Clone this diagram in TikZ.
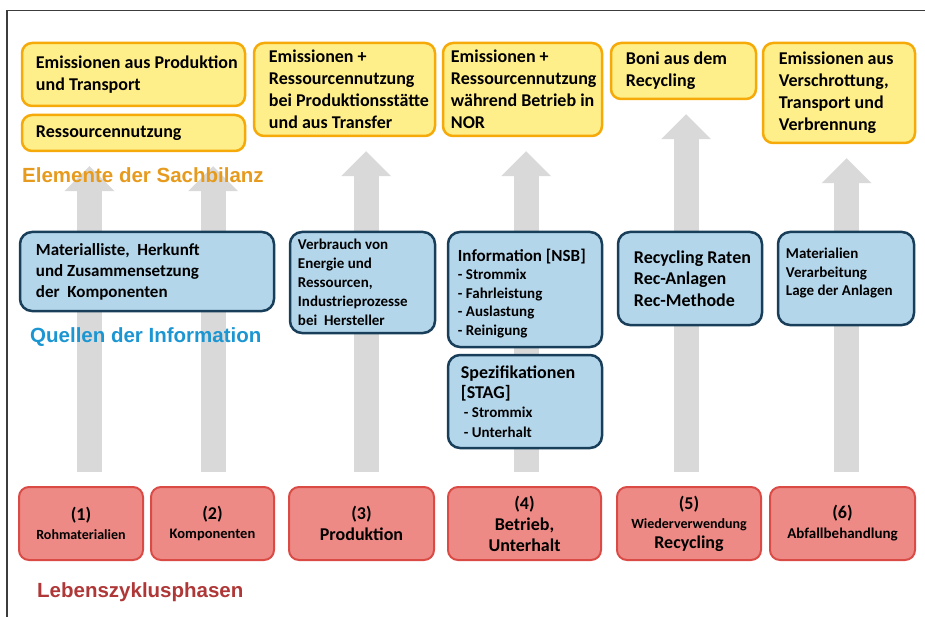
\documentclass[tikz,border=0pt]{standalone}
\usepackage{fontspec}
\setmainfont{Carlito}
\newfontfamily\captionfont{Liberation Sans}
\usetikzlibrary{arrows.meta}
\definecolor{elemfill}{RGB}{255,239,138}
\definecolor{elemdraw}{RGB}{245,170,10}
\definecolor{sourcefill}{RGB}{180,214,235}
\definecolor{sourcedraw}{RGB}{24,62,90}
\definecolor{phasefill}{RGB}{238,138,134}
\definecolor{phasedraw}{RGB}{218,75,70}
\definecolor{flowgray}{RGB}{217,217,217}
\definecolor{framegray}{RGB}{60,60,60}
\definecolor{captionorange}{RGB}{230,155,30}
\definecolor{captionblue}{RGB}{28,150,210}
\definecolor{captionred}{RGB}{175,55,55}
\pgfdeclarelayer{background}
\pgfsetlayers{background,main}

\begin{document}
\begin{tikzpicture}[x=1pt,y=-1pt]
        \tikzstyle{element node}=[draw=elemdraw,fill=elemfill,line width=2.5pt,rounded corners=10pt,inner sep=0pt]
        \tikzstyle{element text}=[anchor=west,align=left,inner sep=0pt,font=\bfseries\fontsize{18}{22}\selectfont]
        \tikzstyle{source node}=[draw=sourcedraw,fill=sourcefill,line width=2.5pt,rounded corners=12pt,inner sep=0pt,minimum height=93pt]
        \tikzstyle{source text}=[anchor=west,align=left,inner sep=0pt]
        \tikzstyle{phase node}=[draw=phasedraw,fill=phasefill,line width=2pt,rounded corners=10pt,align=center,inner xsep=1pt,inner ysep=0pt,minimum height=73pt,font=\bfseries\fontsize{18}{21}\selectfont]
        \tikzstyle{caption}=[anchor=base west,inner sep=0pt,font=\captionfont\bfseries\fontsize{20.5}{24}\selectfont]
        \tikzstyle{flow}=[draw=flowgray,line width=25pt,-{Triangle[width=50pt,length=25pt,line width=0pt]}]
        \useasboundingbox (0,0) rectangle (925,617);
        \draw[framegray,line width=1.5pt] (7,617) -- (7,10.5) -- (925,10.5);

        \node[element node,minimum width=223pt,minimum height=63pt,label={[element text,xshift=15pt]west:{Emissionen aus Produktion\\und Transport}}] (EmisProduktion) at (133.5,74.5) {};
        \node[element node,minimum width=223pt,minimum height=36pt,label={[element text,xshift=15pt]west:{Ressourcennutzung}}] (Ressourcen) at (133.5,133) {};
        \node[element node,minimum width=181pt,minimum height=93pt,label={[element text,xshift=16pt]west:{Emissionen +\\Ressourcennutzung\\bei Produktionsstätte\\und aus Transfer}}] (EmisStaette) at (344.5,89.5) {};
        \node[element node,minimum width=159pt,minimum height=93pt,label={[element text,xshift=9pt]west:{Emissionen +\\Ressourcennutzung\\während Betrieb in\\NOR}}] (EmisBetrieb) at (522.5,89.5) {};
        \node[element node,minimum width=145pt,minimum height=56pt,label={[element text,xshift=16pt]west:{Boni aus dem\\Recycling}}] (Boni) at (683.5,71) {};
        \node[element node,minimum width=152pt,minimum height=100pt,label={[element text,xshift=17pt]west:{Emissionen aus\\Verschrottung,\\Transport und\\Verbrennung}}] (EmisEntsorgung) at (839,93) {};

        \node[source node,minimum width=254pt,minimum height=79pt,label={[source text,xshift=17pt,font=\bfseries\fontsize{17}{21}\selectfont]west:{Materialliste,\ \ Herkunft\\und Zusammensetzung\\der\ \ Komponenten}}] (Materialliste) at (147,271.5) {};
        \node[source node,minimum width=145pt,minimum height=101pt,label={[source text,xshift=9pt,font=\bfseries\fontsize{15}{19}\selectfont]west:{Verbrauch von\\Energie und\\Ressourcen,\\Industrieprozesse\\bei\ \ Hersteller}}] (Verbrauch) at (362.5,282.5) {};
        \node[source node,minimum width=154pt,minimum height=115pt,label={[source text,xshift=11pt,yshift=-4pt,font=\bfseries\fontsize{15}{18.5}\selectfont]west:{{\fontsize{17}{20}\selectfont Information [NSB]}\\- Strommix\\- Fahrleistung\\- Auslastung\\- Reinigung}}] (InfoNSB) at (525,289.5) {};
        \node[source node,minimum width=154pt,label={[source text,xshift=14pt,font=\bfseries\fontsize{15}{19.5}\selectfont]west:{{\fontsize{18}{21}\selectfont Spezifikationen}\\{\fontsize{18}{21}\selectfont [STAG]}\\\hspace*{3pt}- Strommix\\\hspace*{3pt}- Unterhalt}}] (SpezSTAG) at (525,401.5) {};
        \node[source node,minimum width=144pt,label={[source text,xshift=17pt,font=\bfseries\fontsize{18}{21.7}\selectfont]west:{Recycling Raten\\Rec-Anlagen\\Rec-Methode}}] (RecRaten) at (690,278.5) {};
        \node[source node,minimum width=136pt,label={[source text,xshift=9pt,yshift=5pt,font=\bfseries\fontsize{15}{18.5}\selectfont]west:{Materialien\\Verarbeitung\\Lage der Anlagen}}] (Verarbeitung) at (846,278.5) {};

        \node[phase node,text width=122pt,font=\bfseries\fontsize{18}{19}\selectfont] (Rohmaterialien) at (81,523.5) {(1)\\{\fontsize{14}{19}\selectfont Rohmaterialien}};
        \node[phase node,text width=121pt,font=\bfseries\fontsize{18}{19}\selectfont] (Komponenten) at (212.5,523.5) {(2)\\{\fontsize{14.5}{19}\selectfont Komponenten}};
        \node[phase node,text width=143pt] (Produktion) at (361.5,523.5) {(3)\\Produktion};
        \node[phase node,text width=151pt] (Betrieb) at (524.5,523.5) {(4)\\Betrieb,\\Unterhalt};
        \node[phase node,text width=142pt,font=\bfseries\fontsize{18}{19.5}\selectfont] (Recycling) at (689,523.5) {(5)\\{\fontsize{14}{19.5}\selectfont Wiederverwendung}\\Recycling};
        \node[phase node,text width=143pt,font=\bfseries\fontsize{18}{20}\selectfont] (Abfall) at (842.5,523.5) {(6)\\{\fontsize{15}{20}\selectfont Abfallbehandlung}};

        \node[caption,text=captionorange] (Sachbilanz) at (22,183) {Elemente der Sachbilanz};
        \node[caption,text=captionblue] (Quellen) at (30,342.5) {Quellen der Information};
        \node[caption,text=captionred] (Phasen) at (37,597.5) {Lebenszyklusphasen};

        \begin{pgfonlayer}{background}
        \draw[flow] ([yshift=14pt]Rohmaterialien.north -| 89.5,0) -- ([yshift=-14pt]Ressourcen.south -| 89.5,0);
        \draw[flow] ([yshift=14pt]Komponenten.north -| 213,0) -- ([yshift=-14pt]Ressourcen.south -| 213,0);
        \draw[flow] ([yshift=14pt]Produktion.north -| 366,0) -- ([yshift=-14pt]EmisStaette.south -| 366,0);
        \draw[flow] ([yshift=14pt]Betrieb.north -| 526,0) -- ([yshift=-14pt]EmisBetrieb.south -| 526,0);
        \draw[flow] ([yshift=14pt]Recycling.north -| 686,0) -- ([yshift=-14pt]Boni.south -| 686,0);
        \draw[flow] ([yshift=14pt]Abfall.north -| 846.5,0) -- ([yshift=-14pt]EmisEntsorgung.south -| 846.5,0);
        \end{pgfonlayer}
\end{tikzpicture}
\end{document}
